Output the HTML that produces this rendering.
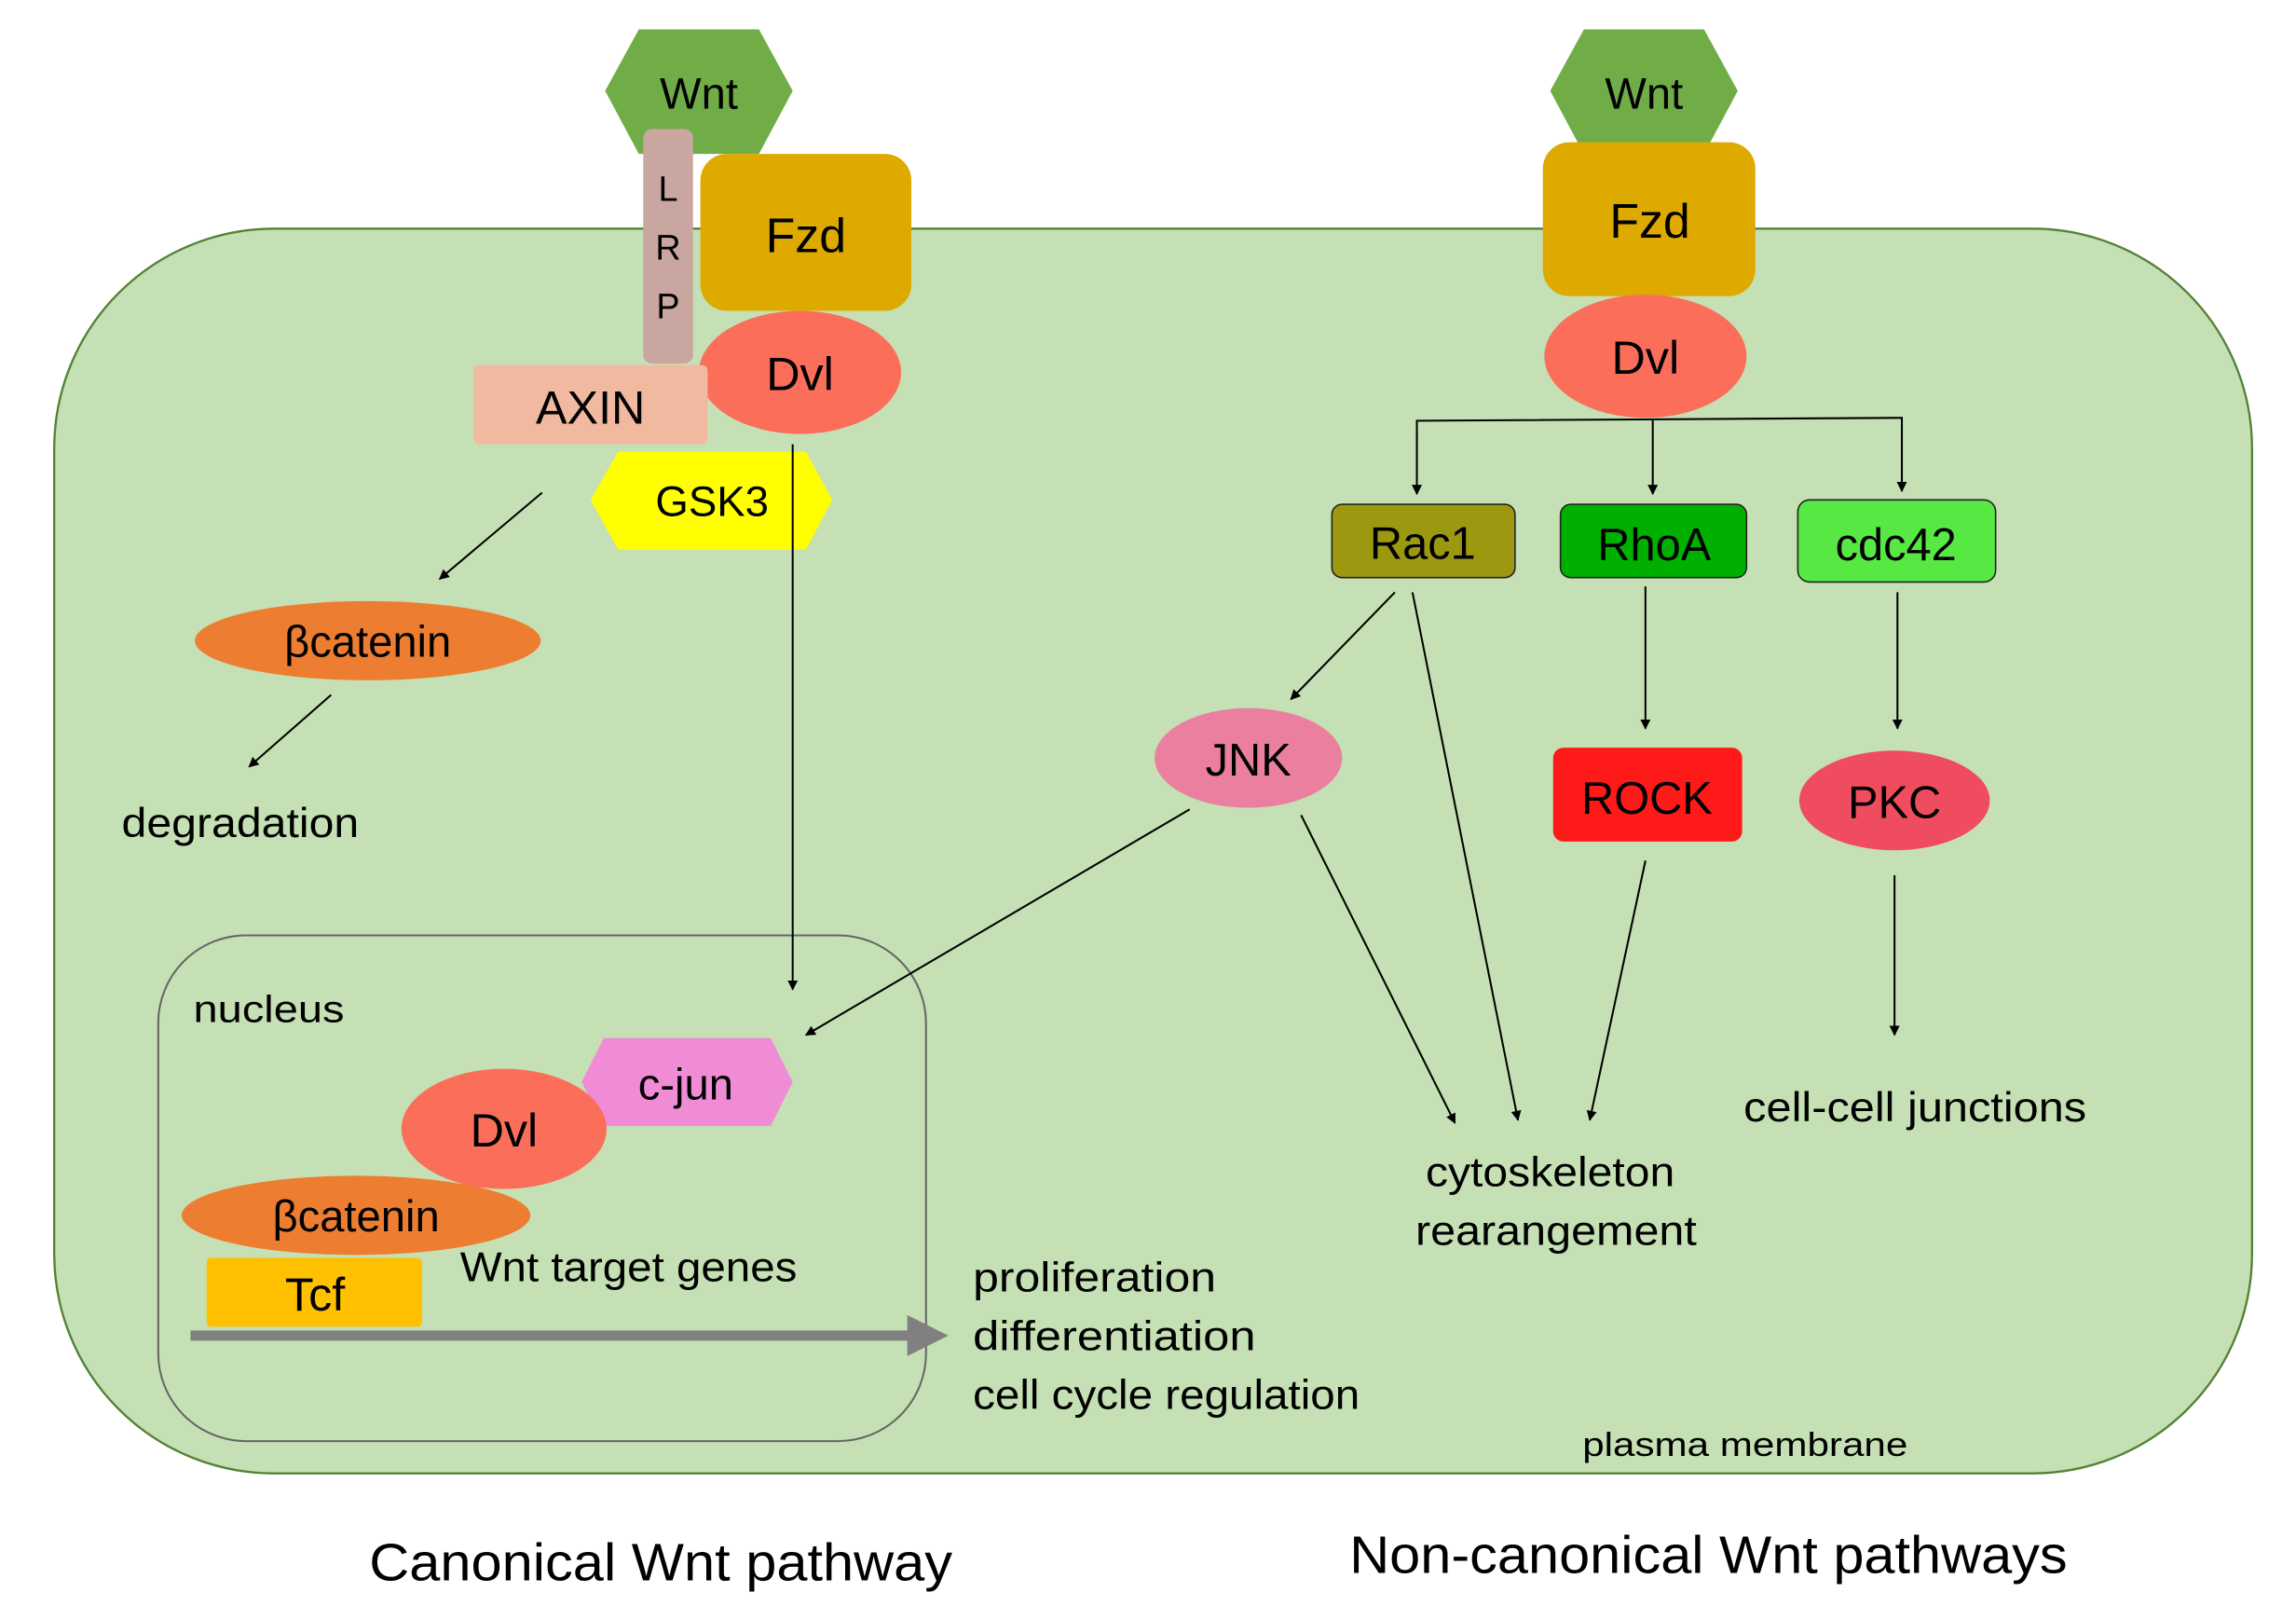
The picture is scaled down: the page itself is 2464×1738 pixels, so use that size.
<!DOCTYPE html>
<html><head><meta charset="utf-8"><style>html,body{margin:0;padding:0;background:#fff}svg{display:block}text{font-family:"Liberation Sans",sans-serif;fill:#000}</style></head>
<body>
<svg width="2464" height="1738" viewBox="0 0 1567 1105" preserveAspectRatio="none" xmlns="http://www.w3.org/2000/svg">
<defs>
<marker id="a" viewBox="0 0 10 10" refX="9" refY="5" markerWidth="7" markerHeight="7" orient="auto" markerUnits="userSpaceOnUse"><path d="M0,0 L10,5 L0,10 z" fill="#000"/></marker>
<marker id="g" viewBox="0 0 10 10" refX="6" refY="5" markerWidth="4" markerHeight="4" orient="auto"><path d="M0,0 L10,5 L0,10 z" fill="#808080"/></marker>
</defs>
<rect x="37" y="156" width="1500" height="849" rx="150" fill="#c5e0b4" stroke="#548235" stroke-width="1.5"/>
<rect x="108" y="638" width="524" height="345" rx="60" fill="none" stroke="#666" stroke-width="1.3"/>

<polygon points="413,62 436,20 518,20 541,62 518,105 436,105" fill="#70ad47"/>
<text x="477" y="74" font-size="30" text-anchor="middle">Wnt</text>
<rect x="439" y="88" width="34" height="160" rx="6" fill="#c9a6a0"/>
<text x="456" y="137" font-size="24" text-anchor="middle">L</text>
<text x="456" y="177" font-size="24" text-anchor="middle">R</text>
<text x="456" y="217" font-size="24" text-anchor="middle">P</text>
<rect x="478" y="105" width="144" height="107" rx="18" fill="#deaa00"/>
<text x="550" y="172" font-size="33" text-anchor="middle">Fzd</text>
<ellipse cx="546" cy="254" rx="69" ry="42" fill="#fb6e5a"/>
<text x="546" y="266" font-size="32" text-anchor="middle">Dvl</text>
<rect x="323" y="249" width="160" height="54" rx="4" fill="#f2b9a1"/>
<text x="403" y="289" font-size="32" text-anchor="middle">AXIN</text>
<polygon points="403,341 422,308 550,308 568,341 550,375 422,375" fill="#ffff00"/>
<text x="486" y="352" font-size="29" text-anchor="middle">GSK3</text>
<line x1="370" y1="336" x2="300" y2="395" stroke="#000" stroke-width="1.3" marker-end="url(#a)"/>
<ellipse cx="251" cy="437" rx="118" ry="27" fill="#ed7d31"/>
<text x="251" y="448" font-size="30" text-anchor="middle">βcatenin</text>
<line x1="226" y1="474" x2="170" y2="523" stroke="#000" stroke-width="1.3" marker-end="url(#a)"/>
<text x="83" y="571" font-size="28" textLength="162" lengthAdjust="spacingAndGlyphs">degradation</text>
<line x1="541" y1="303" x2="541" y2="675" stroke="#000" stroke-width="1.3" marker-end="url(#a)"/>

<text x="132" y="697" font-size="26" textLength="103" lengthAdjust="spacingAndGlyphs">nucleus</text>
<polygon points="397,738 412,708 526,708 541,738 526,768 412,768" fill="#f08cd5"/>
<text x="468" y="750" font-size="30" text-anchor="middle">c-jun</text>
<ellipse cx="344" cy="770" rx="70" ry="41" fill="#fb6e5a"/>
<text x="344" y="782" font-size="32" text-anchor="middle">Dvl</text>
<ellipse cx="243" cy="829" rx="119" ry="27" fill="#ed7d31"/>
<text x="243" y="840" font-size="30" text-anchor="middle">βcatenin</text>
<rect x="141" y="858" width="147" height="47" rx="3" fill="#ffc000"/>
<text x="215" y="894" font-size="32" text-anchor="middle">Tcf</text>
<text x="314" y="874" font-size="28" textLength="230" lengthAdjust="spacingAndGlyphs">Wnt target genes</text>
<line x1="130" y1="911" x2="636" y2="911" stroke="#808080" stroke-width="7" marker-end="url(#g)"/>
<text x="664" y="881" font-size="28" textLength="166" lengthAdjust="spacingAndGlyphs">proliferation</text>
<text x="664" y="921" font-size="28" textLength="193" lengthAdjust="spacingAndGlyphs">differentiation</text>
<text x="664" y="961" font-size="28" textLength="264" lengthAdjust="spacingAndGlyphs">cell cycle regulation</text>
<line x1="812" y1="552" x2="550" y2="706" stroke="#000" stroke-width="1.3" marker-end="url(#a)"/>

<polygon points="1058,62 1081,20 1163,20 1186,62 1163,105 1081,105" fill="#70ad47"/>
<text x="1122" y="74" font-size="30" text-anchor="middle">Wnt</text>
<rect x="1053" y="97" width="145" height="105" rx="18" fill="#deaa00"/>
<text x="1126" y="162" font-size="33" text-anchor="middle">Fzd</text>
<ellipse cx="1123" cy="243" rx="69" ry="42" fill="#fb6e5a"/>
<text x="1123" y="255" font-size="32" text-anchor="middle">Dvl</text>
<polyline points="967,300 967,287 1298,285 1298,300" fill="none" stroke="#000" stroke-width="1.3"/>
<line x1="967" y1="295" x2="967" y2="337" stroke="#000" stroke-width="1.3" marker-end="url(#a)"/>
<line x1="1128" y1="286" x2="1128" y2="337" stroke="#000" stroke-width="1.3" marker-end="url(#a)"/>
<line x1="1298" y1="295" x2="1298" y2="335" stroke="#000" stroke-width="1.3" marker-end="url(#a)"/>
<rect x="909" y="344" width="125" height="50" rx="7" fill="#9c9910" stroke="#222" stroke-width="1"/>
<text x="971" y="381" font-size="31" text-anchor="middle">Rac1</text>
<rect x="1065" y="344" width="127" height="50" rx="7" fill="#00b000" stroke="#222" stroke-width="1"/>
<text x="1129" y="382" font-size="31" text-anchor="middle">RhoA</text>
<rect x="1227" y="341" width="135" height="56" rx="8" fill="#57e843" stroke="#222" stroke-width="1"/>
<text x="1294" y="382" font-size="31" text-anchor="middle">cdc42</text>
<line x1="952" y1="404" x2="881" y2="477" stroke="#000" stroke-width="1.3" marker-end="url(#a)"/>
<line x1="964" y1="404" x2="1036" y2="764" stroke="#000" stroke-width="1.3" marker-end="url(#a)"/>
<line x1="1123" y1="400" x2="1123" y2="497" stroke="#000" stroke-width="1.3" marker-end="url(#a)"/>
<line x1="1295" y1="404" x2="1295" y2="497" stroke="#000" stroke-width="1.3" marker-end="url(#a)"/>
<ellipse cx="852" cy="517" rx="64" ry="34" fill="#ea7f9f"/>
<text x="852" y="529" font-size="31" text-anchor="middle">JNK</text>
<rect x="1060" y="510" width="129" height="64" rx="7" fill="#ff1a1a"/>
<text x="1124" y="555" font-size="31" text-anchor="middle">ROCK</text>
<ellipse cx="1293" cy="546" rx="65" ry="34" fill="#ef4d5f"/>
<text x="1293" y="558" font-size="31" text-anchor="middle">PKC</text>
<line x1="888" y1="556" x2="993" y2="766" stroke="#000" stroke-width="1.3" marker-end="url(#a)"/>
<line x1="1123" y1="587" x2="1085" y2="764" stroke="#000" stroke-width="1.3" marker-end="url(#a)"/>
<line x1="1293" y1="597" x2="1293" y2="706" stroke="#000" stroke-width="1.3" marker-end="url(#a)"/>
<text x="1058" y="809" font-size="28" text-anchor="middle" textLength="170" lengthAdjust="spacingAndGlyphs">cytoskeleton</text>
<text x="1062" y="849" font-size="28" text-anchor="middle" textLength="192" lengthAdjust="spacingAndGlyphs">rearangement</text>
<text x="1307" y="765" font-size="28" text-anchor="middle" textLength="234" lengthAdjust="spacingAndGlyphs">cell-cell junctions</text>
<text x="1191" y="993" font-size="23" text-anchor="middle" textLength="222" lengthAdjust="spacingAndGlyphs">plasma membrane</text>

<text x="451" y="1078" font-size="36" text-anchor="middle" textLength="398" lengthAdjust="spacingAndGlyphs">Canonical Wnt pathway</text>
<text x="1166" y="1073" font-size="36" text-anchor="middle" textLength="490" lengthAdjust="spacingAndGlyphs">Non-canonical Wnt pathways</text>
</svg>
</body></html>
